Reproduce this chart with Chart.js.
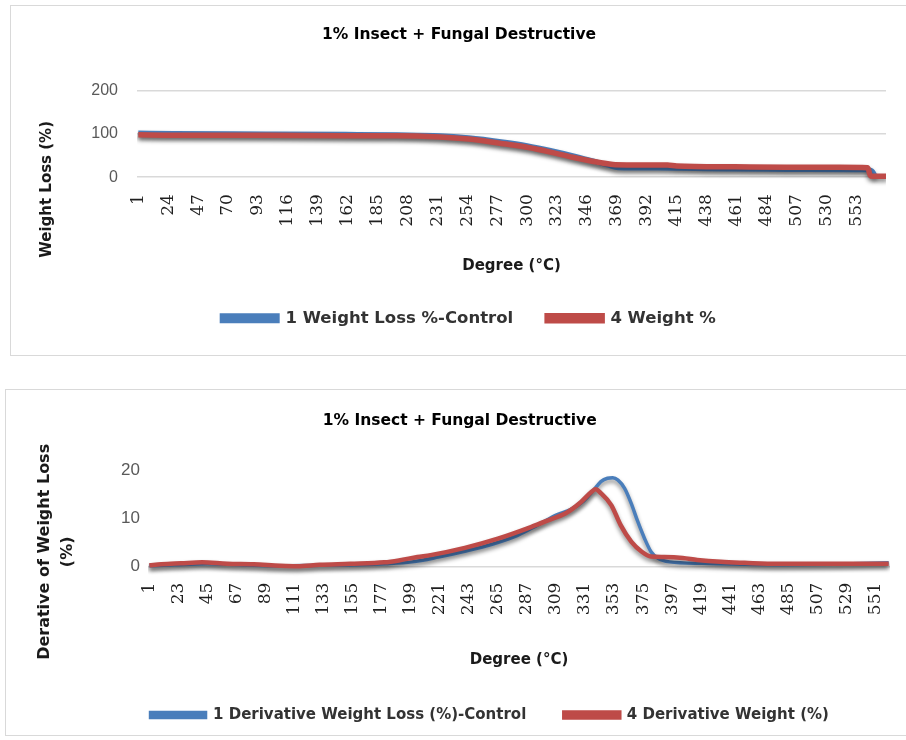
<!DOCTYPE html>
<html>
<head>
<meta charset="utf-8">
<title>1% Insect + Fungal Destructive</title>
<script src="https://cdn.jsdelivr.net/npm/chart.js@4.4.1/dist/chart.umd.min.js"></script>
<style>
body { margin: 0; background: #fff; }
.box { position: absolute; border: 1px solid #d9d9d9; background: #fff; }
#box1 { left: 10px; top: 5px; width: 900px; height: 349px; }
#box2 { left: 5px; top: 389px; width: 905px; height: 345px; }
canvas { display: block; }
</style>
</head>
<body>
<div class="box" id="box1"><canvas id="weightChart" width="900" height="349"></canvas></div>
<div class="box" id="box2"><canvas id="derivChart" width="905" height="345"></canvas></div>
<script>
//-------------------------DATA----------------------------------------------------------

var chartTitle = '1% Insect + Fungal Destructive';

// top chart: weight loss
var weightTicks = [1, 24, 47, 70, 93, 116, 139, 162, 185, 208, 231, 254, 277, 300, 323, 346, 369, 392, 415, 438, 461, 484, 507, 530, 553];
var controlWeightX = [1, 28, 100, 160, 200, 233, 255, 280, 300, 318, 335, 350, 362, 370, 400, 450, 500, 550, 562, 566, 568];
var controlWeightY = [102, 101, 100, 99, 98, 96, 91, 82, 73, 62, 50, 38, 28, 22, 21, 19, 18, 17, 17, 12, 0];
var sampleWeightX = [1, 28, 100, 160, 200, 233, 255, 280, 300, 318, 335, 350, 362, 368, 408, 415, 460, 500, 540, 562, 564, 577];
var sampleWeightY = [98, 97, 97, 96, 96, 93, 88, 78, 69, 58, 46, 37, 31, 29, 28, 26, 24, 23, 23, 22, 3, 2];

// bottom chart: derivative weight loss
var derivTicks = [1, 23, 45, 67, 89, 111, 133, 155, 177, 199, 221, 243, 265, 287, 309, 331, 353, 375, 397, 419, 441, 463, 485, 507, 529, 551];
var controlDerivX = [1, 20, 45, 70, 100, 130, 160, 180, 200, 220, 240, 260, 280, 295, 310, 320, 330, 338, 343, 348, 352, 356, 361, 366, 371, 376, 381, 386, 395, 420, 450, 480, 520, 561];
var controlDerivY = [0.2, 0.4, 0.6, 0.4, 0.2, 0.3, 0.4, 0.6, 1.0, 2.0, 3.2, 4.6, 6.5, 8.6, 10.8, 11.8, 13.6, 16.0, 17.6, 18.3, 18.4, 17.9, 16.2, 13.1, 9.3, 5.9, 3.1, 1.8, 1.0, 0.7, 0.5, 0.4, 0.5, 0.8];
var sampleDerivX = [1, 10, 25, 41, 60, 80, 100, 113, 130, 153, 179, 190, 204, 214, 240, 265, 290, 305, 316, 328, 336, 339, 343, 351, 358, 366, 374, 381, 391, 405, 416, 434, 452, 477, 520, 561];
var sampleDerivY = [0.3, 0.5, 0.7, 0.9, 0.6, 0.5, 0.2, 0.1, 0.4, 0.6, 0.9, 1.3, 2.0, 2.4, 3.9, 5.8, 8.2, 9.8, 11.0, 13.4, 15.5, 16.0, 15.2, 12.7, 8.6, 5.2, 3.1, 2.1, 2.0, 1.8, 1.4, 1.0, 0.8, 0.6, 0.6, 0.6];

var blue = 'rgb(74, 126, 187)';
var red = 'rgb(190, 75, 72)';

//-------------------------HELPERS-------------------------------------------------------

function toPoints(xs, ys) {
    var pts = [];
    for (let i = 0; i < xs.length; i++) {
        pts.push({x: xs[i], y: ys[i]});
    }
    return pts;
}

// excel style soft shadow under the lines
var lineShadow = {
    id: 'lineShadow',
    beforeDatasetsDraw: function(chart) {
        var ctx = chart.ctx;
        ctx.save();
        ctx.shadowColor = 'rgba(0, 0, 0, 0.45)';
        ctx.shadowBlur = 4;
        ctx.shadowOffsetY = 3;
    },
    afterDatasetsDraw: function(chart) {
        chart.ctx.restore();
    }
};

// nudge legend sideways and push the y title down (excel centres it lower)
var boxNudge = {
    id: 'boxNudge',
    afterLayout: function(chart, args, opts) {
        chart.legend.left += opts.dx;
        chart.legend.right += opts.dx;
        chart.scales.y.bottom += opts.dy;
    }
};

function makeChart(canvasId, cfg) {
    var ctx = document.getElementById(canvasId).getContext('2d');
    return new Chart(ctx, {
        type: 'line',
        data: {
            datasets: [{
                label: cfg.labels[0],
                data: cfg.control,
                borderColor: blue,
                backgroundColor: blue,
                borderWidth: cfg.lineWidths[0],
                pointRadius: 0,
                cubicInterpolationMode: 'monotone',
                order: 1
            }, {
                label: cfg.labels[1],
                data: cfg.sample,
                borderColor: red,
                backgroundColor: red,
                borderWidth: cfg.lineWidths[1],
                pointRadius: 0,
                cubicInterpolationMode: 'monotone',
                order: 0
            }]
        },
        options: {
            responsive: false,
            animation: false,
            events: [],
            layout: {padding: cfg.padding},
            scales: {
                x: {
                    type: 'linear',
                    min: cfg.xMin,
                    max: cfg.xMax,
                    afterBuildTicks: function(scale) {
                        scale.ticks = cfg.ticks.map(function(v) { return {value: v}; });
                    },
                    afterFit: function(scale) { scale.height = cfg.xHeight; },
                    grid: {display: false},
                    border: {display: false},
                    ticks: {
                        autoSkip: false,
                        minRotation: 90,
                        maxRotation: 90,
                        padding: cfg.xTickPad,
                        color: '#1f1f1f',
                        font: {family: 'DejaVu Serif', size: 17}
                    },
                    title: {
                        display: true,
                        text: 'Degree (°C)',
                        color: '#1a1a1a',
                        padding: {top: 0, bottom: cfg.xTitlePad},
                        font: {family: 'DejaVu Sans', size: 15, weight: 'bold'}
                    }
                },
                y: {
                    min: 0,
                    max: cfg.yMax,
                    afterFit: function(scale) { scale.width = cfg.yWidth; },
                    ticks: {
                        stepSize: cfg.yStep,
                        padding: cfg.yTickPad,
                        color: '#595959',
                        font: {family: 'Liberation Sans', size: cfg.yTickSize}
                    },
                    grid: {
                        drawTicks: false,
                        lineWidth: 1.5,
                        color: function(c) {
                            if (cfg.allGrid || c.tick.value === 0) return '#d9d9d9';
                            return 'rgba(0,0,0,0)';
                        }
                    },
                    border: {display: false},
                    title: {
                        display: true,
                        text: cfg.yTitle,
                        color: '#1a1a1a',
                        padding: {top: 4, bottom: 4},
                        font: {family: 'DejaVu Sans', size: cfg.yTitleSize, weight: 'bold', lineHeight: 1.45}
                    }
                }
            },
            plugins: {
                title: {
                    display: true,
                    text: chartTitle,
                    color: '#000',
                    padding: cfg.titlePad,
                    font: {family: 'DejaVu Sans', size: 15.5, weight: 'bold', lineHeight: 1.2}
                },
                legend: {
                    position: 'bottom',
                    labels: {
                        boxWidth: 55,
                        boxHeight: 5,
                        padding: cfg.legendPad,
                        color: '#333',
                        sort: function(a, b) { return a.datasetIndex - b.datasetIndex; },
                        font: {family: 'DejaVu Sans', size: cfg.legendSize, weight: 'bold'}
                    }
                },
                boxNudge: {dx: cfg.legendDx, dy: cfg.yTitleDy},
                tooltip: {enabled: false}
            }
        },
        plugins: [lineShadow, boxNudge]
    });
}

//-------------------------BUILD THE TWO CHARTS------------------------------------------

makeChart('weightChart', {
    labels: ['1 Weight Loss %-Control', '4 Weight %'],
    control: toPoints(controlWeightX, controlWeightY),
    sample: toPoints(sampleWeightX, sampleWeightY),
    ticks: weightTicks,
    lineWidths: [5, 5.5],
    xMin: 0, xMax: 576,
    yMax: 200, yStep: 100, allGrid: true,
    yTitle: 'Weight Loss (%)', yTitleSize: 15, yTickSize: 16, yTitleDy: 111,
    padding: {left: 21, right: 25, top: 0, bottom: 18.5},
    yWidth: 105, yTickPad: 19,
    titlePad: {top: 20, bottom: 46},
    xHeight: 98.8, xTickPad: 9, xTitlePad: 0.5,
    legendPad: 34, legendSize: 16.5, legendDx: 10
});

makeChart('derivChart', {
    labels: ['1 Derivative Weight Loss (%)-Control', '4 Derivative Weight (%)'],
    control: toPoints(controlDerivX, controlDerivY),
    sample: toPoints(sampleDerivX, sampleDerivY),
    ticks: derivTicks,
    lineWidths: [3.5, 4.5],
    xMin: 0, xMax: 562,
    yMax: 20, yStep: 10, allGrid: false,
    yTitle: ['Derative of Weight Loss', '(%)'], yTitleSize: 16, yTickSize: 17, yTitleDy: 67,
    padding: {left: 23.4, right: 21, top: 0, bottom: 2.5},
    yWidth: 118.6, yTickPad: 8,
    titlePad: {top: 21.7, bottom: 39.7},
    xHeight: 102.8, xTickPad: 8, xTitlePad: 0.5,
    legendPad: 38, legendSize: 15, legendDx: 30
});
</script>
</body>
</html>
